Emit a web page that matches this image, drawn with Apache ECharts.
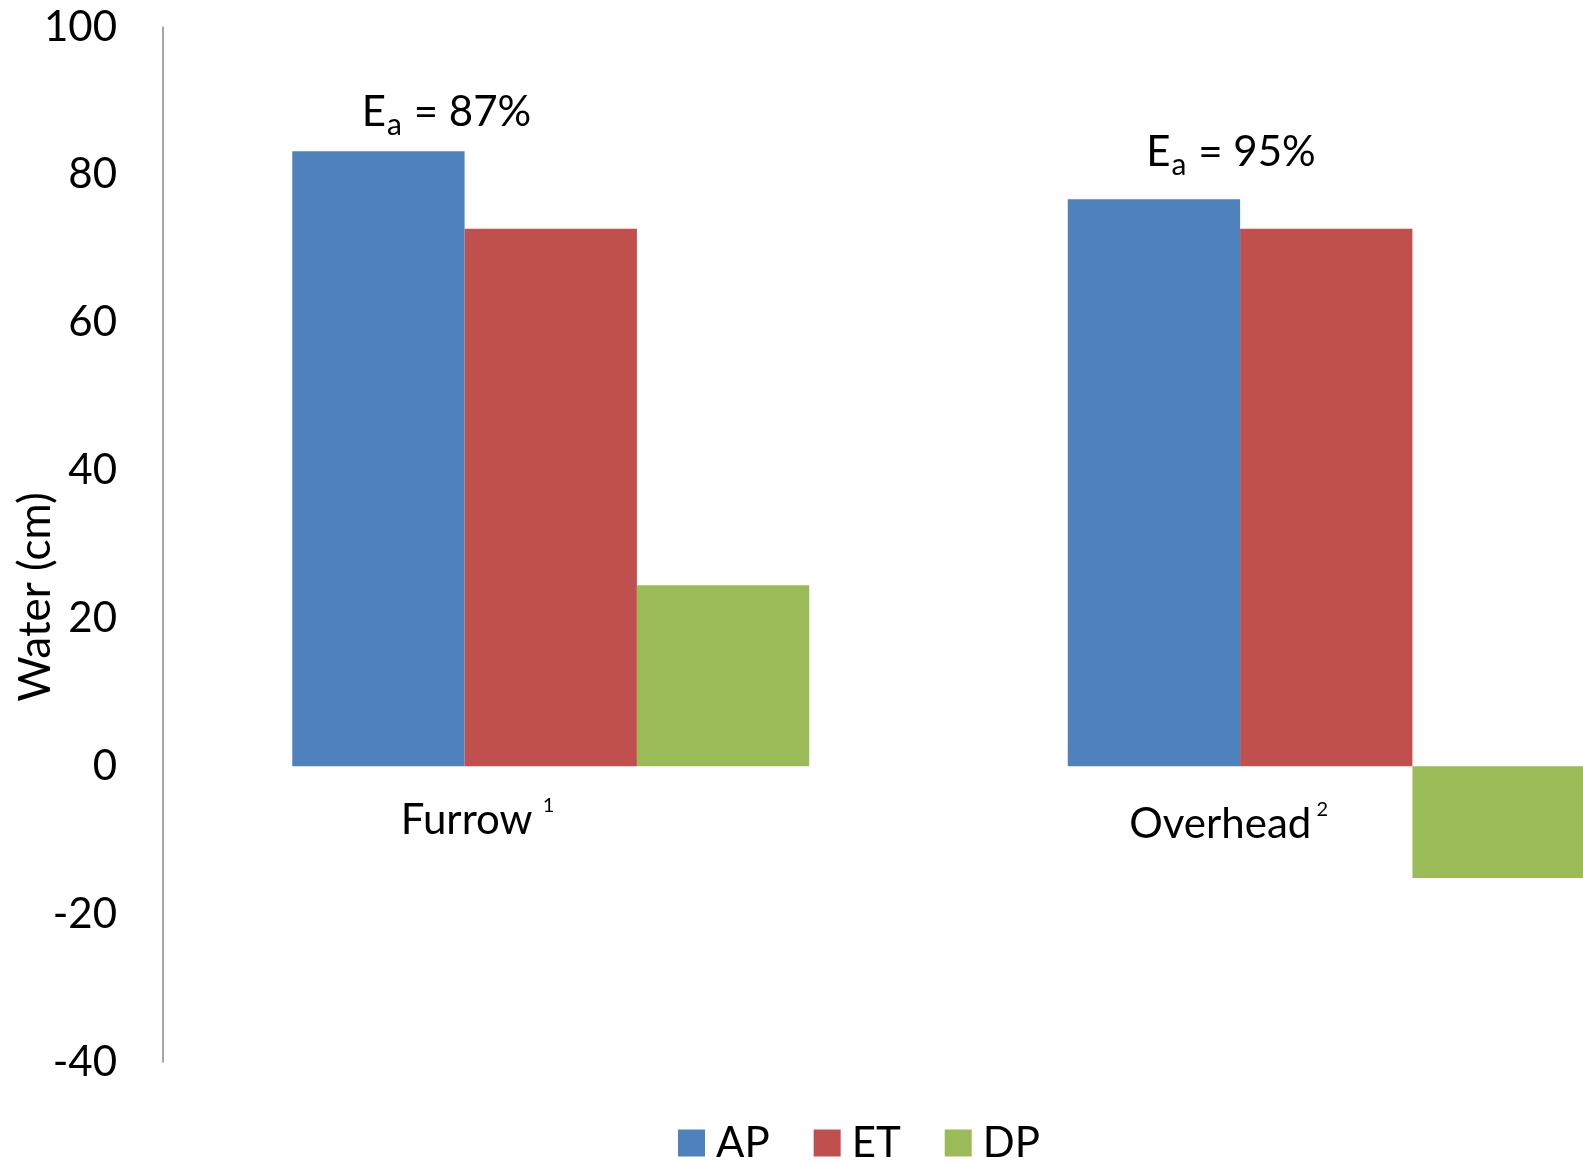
<!DOCTYPE html>
<html>
<head>
<meta charset="utf-8">
<title>Water (cm)</title>
<script src="https://cdn.jsdelivr.net/npm/echarts@6/dist/echarts.min.js"></script>
<style>
  html, body { margin: 0; padding: 0; overflow: hidden; background: #ffffff; width: 1583px; height: 1163px; }
  #chart { width: 1720px; height: 1163px; }
</style>
</head>
<body>
<div id="chart"></div>
<script>
// Irrigation methods and their footnote marks
const categories = ['Furrow', 'Overhead'];
const footnotes = ['1', '2'];

// Water amounts (cm)
const apValues = [83.2, 76.7];   // applied water
const etValues = [72.7, 72.7];   // evapotranspiration
const dpValues = [24.5, -15.1];  // deep percolation

// Application efficiency for each method
const efficiencyLabels = ['87%', '95%'];

// Value axis range and step
const yMin = -40;
const yMax = 100;
const yStep = 20;

const FONT = 'Lato, "Open Sans", "Liberation Sans", sans-serif';
const COLORS = ['#4F81BD', '#C0504D', '#9BBB59'];

const chart = echarts.init(document.getElementById('chart'), null, { renderer: 'canvas' });

const option = {
  animation: false,
  backgroundColor: '#ffffff',
  color: COLORS,
  textStyle: { fontFamily: FONT },
  grid: { left: 163, top: 27, width: 1551, height: 1035, containLabel: false },
  legend: {
    data: ['AP', 'ET', 'DP'],
    left: 673,
    top: 1117,
    icon: 'rect',
    itemWidth: 27,
    itemHeight: 27,
    itemGap: 44,
    textStyle: { fontFamily: FONT, fontSize: 42, color: '#000000', lineHeight: 27, padding: [7, 0, 0, 6] }
  },
  xAxis: {
    type: 'category',
    data: categories,
    axisLine: { show: false },
    axisTick: { show: false },
    axisLabel: { show: false },
    splitLine: { show: false }
  },
  yAxis: {
    type: 'value',
    min: yMin,
    max: yMax,
    interval: yStep,
    axisLine: { show: true, lineStyle: { color: '#888888', width: 1.5 } },
    axisTick: { show: false },
    splitLine: { show: false },
    axisLabel: { fontFamily: FONT, fontSize: 42, color: '#000000', margin: 46 }
  },
  series: [
    { name: 'AP', type: 'bar', data: apValues, barGap: '0%', barCategoryGap: '33.34%' },
    { name: 'ET', type: 'bar', data: etValues, barGap: '0%', barCategoryGap: '33.34%' },
    { name: 'DP', type: 'bar', data: dpValues, barGap: '0%', barCategoryGap: '33.34%' }
  ]
};

chart.setOption(option);

// Text width helper for placing the subscript
const measureCtx = document.createElement('canvas').getContext('2d');
function textWidth(text, size) {
  measureCtx.font = size + 'px ' + FONT;
  return measureCtx.measureText(text).width;
}

// Annotation placement relative to each category centre (pixels)
const effOffsets = [{ dx: -189, dy: -64 }, { dx: -180, dy: -72 }];
const catOffsets = [{ dx: -150, dy: 29 }, { dx: -197, dy: 33 }];

const mainRich = { fontFamily: FONT, fontSize: 42, lineHeight: 50, fill: '#000000' };
const SUB_SIZE = 30;

function annotations() {
  const items = [];
  const wE = textWidth('E', 42);
  const wSub = textWidth('a', SUB_SIZE) + 2;

  categories.forEach(function (cat, i) {
    const top = chart.convertToPixel({ xAxisIndex: 0, yAxisIndex: 0 }, [cat, apValues[i]]);
    const base = chart.convertToPixel({ xAxisIndex: 0, yAxisIndex: 0 }, [cat, 0]);
    const ex = top[0] + effOffsets[i].dx;
    const ey = top[1] + effOffsets[i].dy;

    // E_a = xx% above the applied-water bar
    items.push({
      type: 'text',
      x: ex,
      y: ey,
      style: {
        text: '{m|E}{g|}{m| = ' + efficiencyLabels[i] + '}',
        align: 'left',
        verticalAlign: 'top',
        rich: { m: mainRich, g: { width: wSub, lineHeight: 50 } }
      }
    });
    // subscript a
    items.push({
      type: 'text',
      x: ex + wE + 1,
      y: ey + 38,
      style: {
        text: 'a',
        fontFamily: FONT,
        fontSize: SUB_SIZE,
        lineHeight: 30,
        fill: '#000000',
        align: 'left',
        verticalAlign: 'middle'
      }
    });

    // Method name with footnote mark below the zero line
    items.push({
      type: 'text',
      x: base[0] + catOffsets[i].dx,
      y: base[1] + catOffsets[i].dy,
      style: {
        text: '{m|' + cat + '}{s|' + (i === 0 ? '  ' : ' ') + footnotes[i] + '}',
        align: 'left',
        verticalAlign: 'top',
        rich: {
          m: mainRich,
          s: { fontFamily: FONT, fontSize: 20, lineHeight: 16, verticalAlign: 'top', fill: '#000000' }
        }
      }
    });
  });

  // Value axis title
  items.push({
    type: 'text',
    x: 36,
    y: 597,
    rotation: Math.PI / 2,
    style: {
      text: 'Water (cm)',
      fontFamily: FONT,
      fontSize: 44,
      fill: '#000000',
      align: 'center',
      verticalAlign: 'middle'
    }
  });
  return items;
}

chart.setOption({ graphic: annotations() });
</script>
</body>
</html>
